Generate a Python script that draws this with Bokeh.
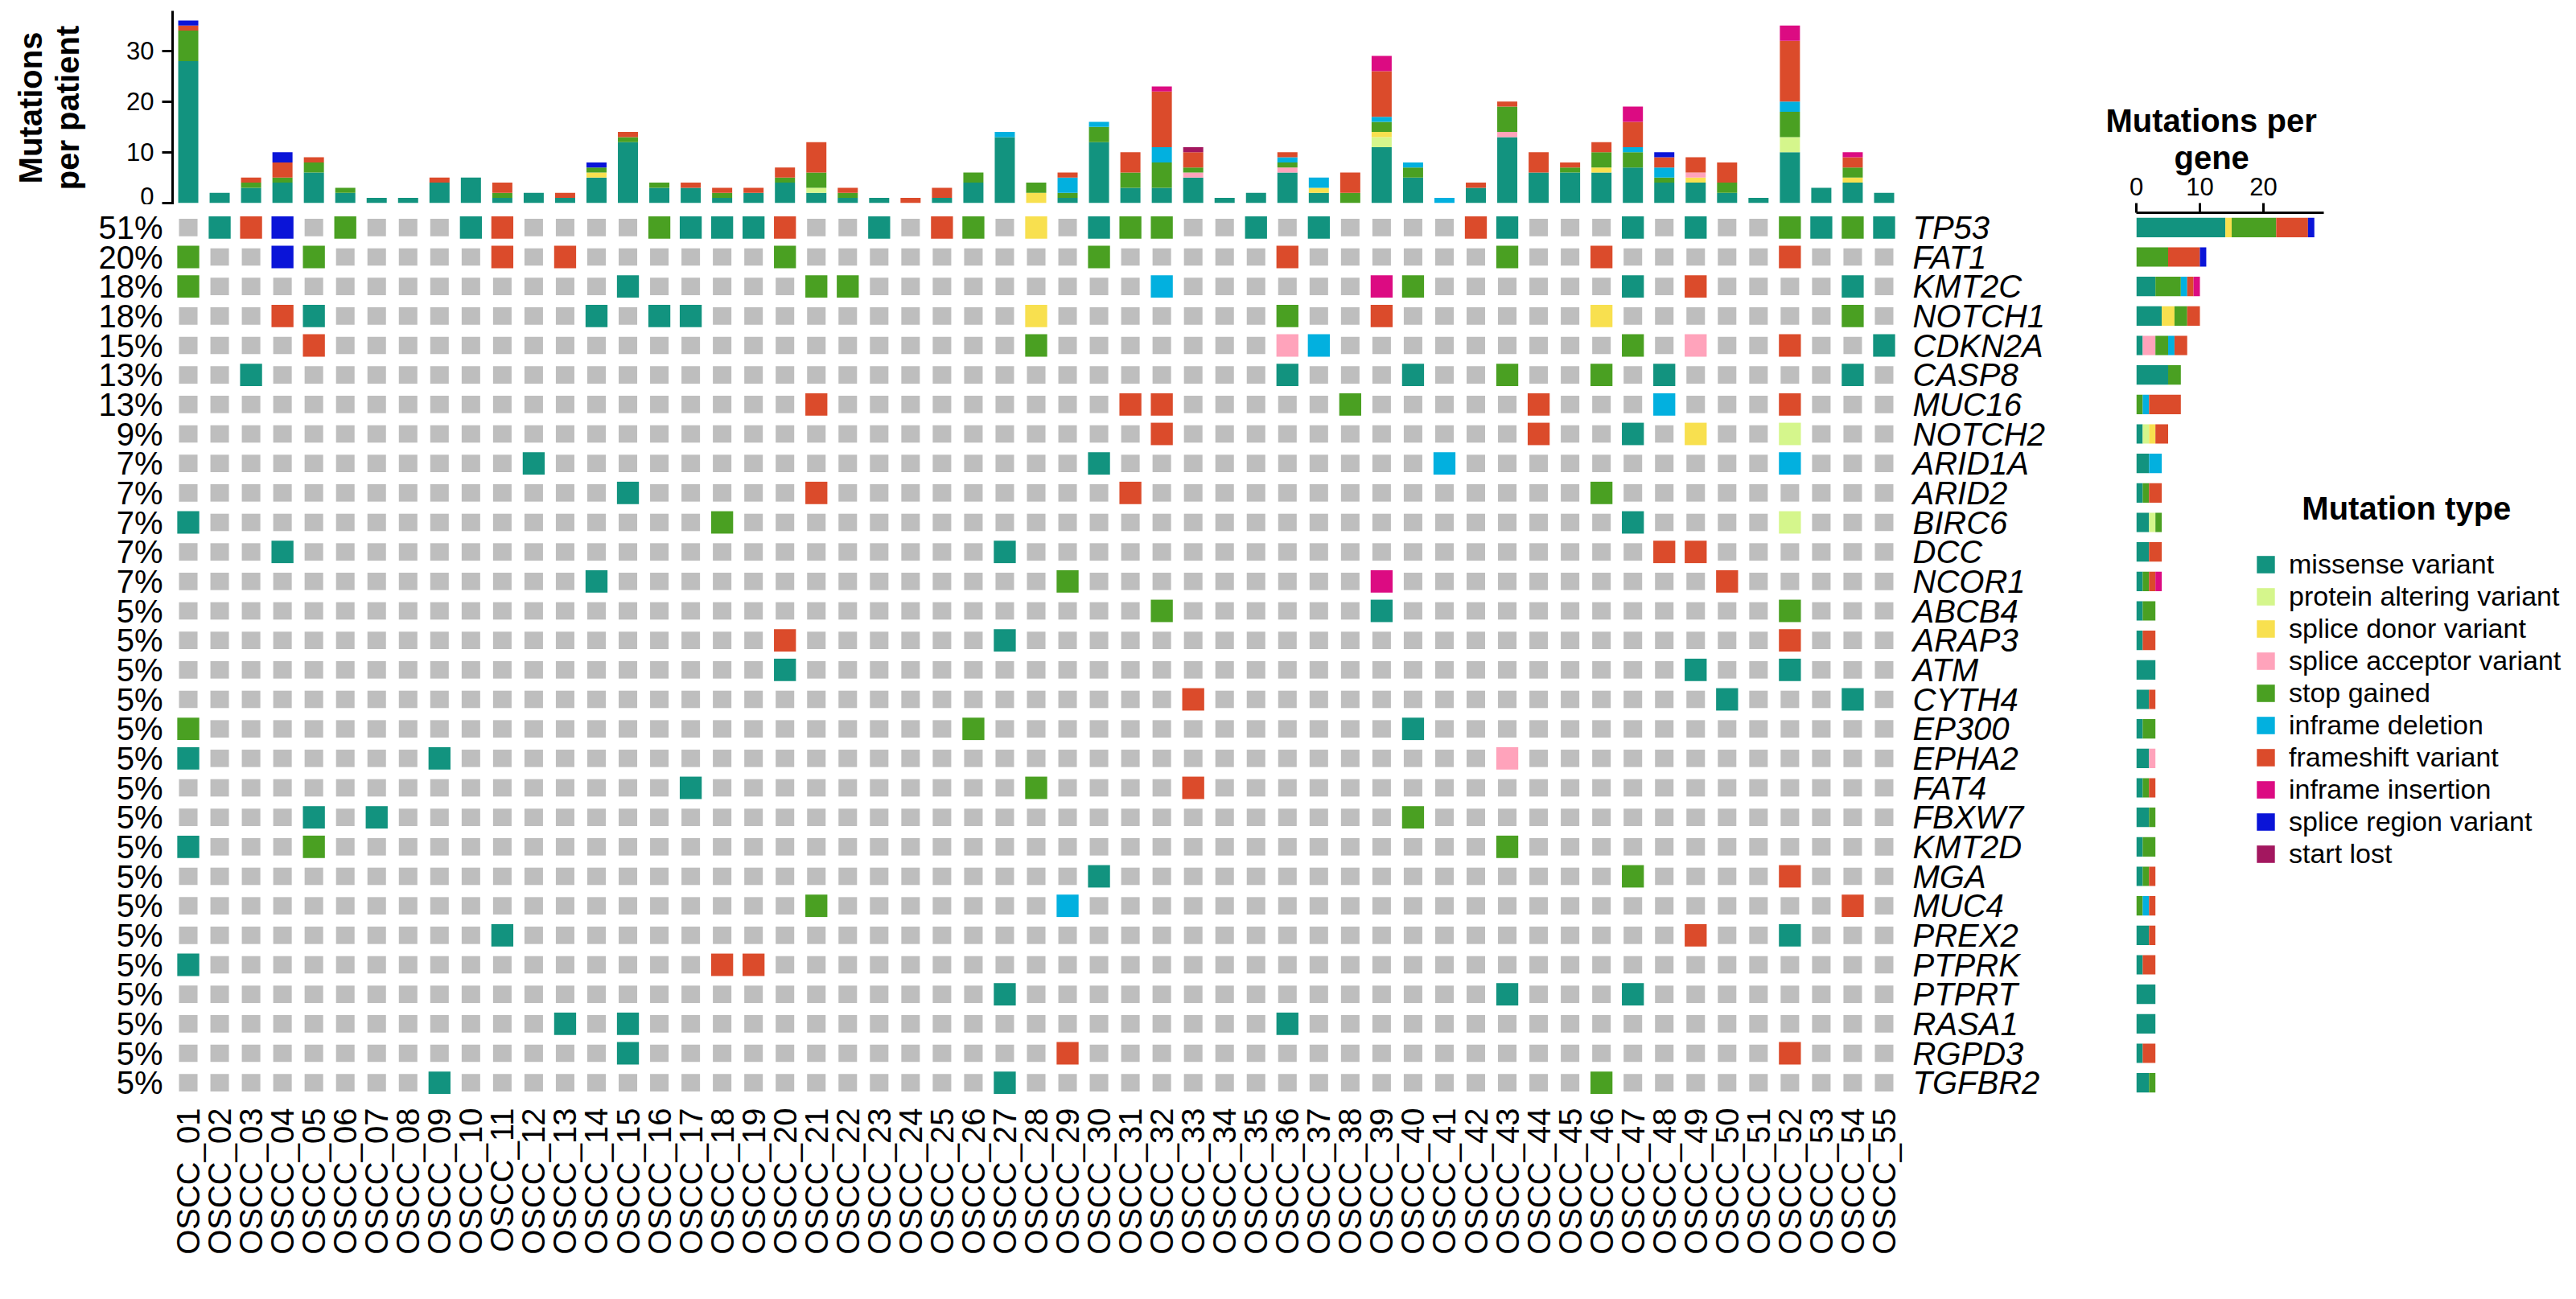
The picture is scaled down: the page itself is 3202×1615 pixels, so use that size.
import math
from bokeh.plotting import figure
from bokeh.models import (ColumnDataSource, Range1d, FixedTicker, LinearAxis,
                          Legend, LegendItem, Label, Title)
from bokeh.layouts import row, column
from bokeh.embed import file_html
from bokeh.resources import INLINE

FONT = "Liberation Sans"

# ---------------- data ----------------
patients = ["OSCC_%02d" % i for i in range(1, 56)]

genes = ["TP53", "FAT1", "KMT2C", "NOTCH1", "CDKN2A", "CASP8", "MUC16", "NOTCH2",
         "ARID1A", "ARID2", "BIRC6", "DCC", "NCOR1", "ABCB4", "ARAP3", "ATM",
         "CYTH4", "EP300", "EPHA2", "FAT4", "FBXW7", "KMT2D", "MGA", "MUC4",
         "PREX2", "PTPRK", "PTPRT", "RASA1", "RGPD3", "TGFBR2"]

gene_pct = ["51%", "20%", "18%", "18%", "15%", "13%", "13%", "9%", "7%", "7%",
            "7%", "7%", "7%", "5%", "5%", "5%", "5%", "5%", "5%", "5%",
            "5%", "5%", "5%", "5%", "5%", "5%", "5%", "5%", "5%", "5%"]

mut_types = ["missense variant", "protein altering variant", "splice donor variant",
             "splice acceptor variant", "stop gained", "inframe deletion",
             "frameshift variant", "inframe insertion", "splice region variant",
             "start lost"]
mut_codes = ["M", "P", "D", "A", "S", "L", "F", "I", "R", "X"]
mut_colors = ["#12937F", "#D5F68C", "#F8E04F", "#FFA3BB", "#4AA022", "#02B0DF",
              "#DB4B2B", "#DC0B82", "#0A14D8", "#A3175F"]
none_color = "#BEBEBE"

# one string per gene, one character per patient (groups of 10 patients)
grid = [
    ".MFR.S...M F....SMMMF ..M.FS.D.M SS..M.M... .FM...M.M. .SMSM",  # TP53
    "S..RS..... F.F......S .........S .....F.... ..S..F.... .F...",  # FAT1
    "S......... ....M..... SS........ .L......IS ......M.F. ...M.",  # KMT2C
    "...FM..... ...M.MM... .......D.. .....S..F. .....D.... ...S.",  # NOTCH1
    "....F..... .......... .......S.. .....AL... ......S.A. .F..M",  # CDKN2A
    "..M....... .......... .......... .....M...M ..S..S.M.. ...M.",  # CASP8
    ".......... .......... F......... FF.....S.. ...F...L.. .F...",  # MUC16
    ".......... .......... .......... .F........ ...F..M.D. .P...",  # NOTCH2
    ".......... .M........ .........M .......... L......... .L...",  # ARID1A
    ".......... ....M..... F......... F......... .....S.... .....",  # ARID2
    "M......... .......S.. .......... .......... ......M... .P...",  # BIRC6
    "...M...... .......... ......M... .......... .......FF. .....",  # DCC
    ".......... ...M...... ........S. ........I. .........F .....",  # NCOR1
    ".......... .......... .......... .S......M. .......... .S...",  # ABCB4
    ".......... .........F ......M... .......... .......... .F...",  # ARAP3
    ".......... .........M .......... .......... ........M. .M...",  # ATM
    ".......... .......... .......... ..F....... .........M ...M.",  # CYTH4
    "S......... .......... .....S.... .........M .......... .....",  # EP300
    "M.......M. .......... .......... .......... ..A....... .....",  # EPHA2
    ".......... ......M... .......S.. ..F....... .......... .....",  # FAT4
    "....M.M... .......... .......... .........S .......... .....",  # FBXW7
    "M...S..... .......... .......... .......... ..S....... .....",  # KMT2D
    ".......... .......... .........M .......... ......S... .F...",  # MGA
    ".......... .......... S.......L. .......... .......... ...F.",  # MUC4
    ".......... M......... .......... .......... ........F. .M...",  # PREX2
    "M......... .......FF. .......... .......... .......... .....",  # PTPRK
    ".......... .......... ......M... .......... ..M...M... .....",  # PTPRT
    ".......... ..M.M..... .......... .....M.... .......... .....",  # RASA1
    ".......... ....M..... ........F. .......... .......... .F...",  # RGPD3
    "........M. .......... ......M... .......... .....S.... .....",  # TGFBR2
]

# mutations per patient, by type (patients OSCC_01 .. OSCC_55)
pat_missense = [28, 2, 3, 4, 6, 2, 1, 1, 4, 5,
                1, 2, 1, 5, 12, 3, 3, 1, 2, 4,
                2, 1, 1, 0, 1, 4, 13, 0, 1, 12,
                3, 3, 5, 1, 2, 6, 2, 0, 11, 5,
                0, 3, 13, 6, 6, 6, 7, 4, 4, 2,
                1, 10, 3, 4, 2]
pat_protein_alt = [0, 0, 0, 0, 0, 0, 0, 0, 0, 0,
                   0, 0, 0, 0, 0, 0, 0, 0, 0, 0,
                   1, 0, 0, 0, 0, 0, 0, 0, 0, 0,
                   0, 0, 0, 0, 0, 0, 0, 0, 2, 0,
                   0, 0, 0, 0, 0, 0, 0, 0, 0, 0,
                   0, 3, 0, 0, 0]
pat_splice_donor = [0, 0, 0, 0, 0, 0, 0, 0, 0, 0,
                    0, 0, 0, 1, 0, 0, 0, 0, 0, 0,
                    0, 0, 0, 0, 0, 0, 0, 2, 0, 0,
                    0, 0, 0, 0, 0, 0, 1, 0, 1, 0,
                    0, 0, 0, 0, 0, 1, 0, 0, 1, 0,
                    0, 0, 0, 1, 0]
pat_splice_acc = [0, 0, 0, 0, 0, 0, 0, 0, 0, 0,
                  0, 0, 0, 0, 0, 0, 0, 0, 0, 0,
                  0, 0, 0, 0, 0, 0, 0, 0, 0, 0,
                  0, 0, 1, 0, 0, 1, 0, 0, 0, 0,
                  0, 0, 1, 0, 0, 0, 0, 0, 1, 0,
                  0, 0, 0, 0, 0]
pat_stop = [6, 0, 1, 1, 2, 1, 0, 0, 0, 0,
            1, 0, 0, 1, 1, 1, 0, 1, 0, 1,
            3, 1, 0, 0, 0, 2, 0, 2, 1, 3,
            3, 5, 1, 0, 0, 1, 0, 2, 2, 2,
            0, 0, 5, 0, 1, 3, 3, 1, 0, 2,
            0, 5, 0, 2, 0]
pat_inframe_del = [0, 0, 0, 0, 0, 0, 0, 0, 0, 0,
                   0, 0, 0, 0, 0, 0, 0, 0, 0, 0,
                   0, 0, 0, 0, 0, 0, 1, 0, 3, 1,
                   0, 3, 0, 0, 0, 1, 2, 0, 1, 1,
                   1, 0, 0, 0, 0, 0, 1, 2, 0, 0,
                   0, 2, 0, 0, 0]
pat_frameshift = [1, 0, 1, 3, 1, 0, 0, 0, 1, 0,
                  2, 0, 1, 0, 1, 0, 1, 1, 1, 2,
                  6, 1, 0, 1, 2, 0, 0, 0, 1, 0,
                  4, 11, 3, 0, 0, 1, 0, 4, 9, 0,
                  0, 1, 1, 4, 1, 2, 5, 2, 3, 4,
                  0, 12, 0, 2, 0]
pat_inframe_ins = [0, 0, 0, 0, 0, 0, 0, 0, 0, 0,
                   0, 0, 0, 0, 0, 0, 0, 0, 0, 0,
                   0, 0, 0, 0, 0, 0, 0, 0, 0, 0,
                   0, 1, 0, 0, 0, 0, 0, 0, 3, 0,
                   0, 0, 0, 0, 0, 0, 3, 0, 0, 0,
                   0, 3, 0, 1, 0]
pat_splice_region = [1, 0, 0, 2, 0, 0, 0, 0, 0, 0,
                     0, 0, 0, 1, 0, 0, 0, 0, 0, 0,
                     0, 0, 0, 0, 0, 0, 0, 0, 0, 0,
                     0, 0, 0, 0, 0, 0, 0, 0, 0, 0,
                     0, 0, 0, 0, 0, 0, 0, 1, 0, 0,
                     0, 0, 0, 0, 0]
pat_start_lost = [0, 0, 0, 0, 0, 0, 0, 0, 0, 0,
                  0, 0, 0, 0, 0, 0, 0, 0, 0, 0,
                  0, 0, 0, 0, 0, 0, 0, 0, 0, 0,
                  0, 0, 1, 0, 0, 0, 0, 0, 0, 0,
                  0, 0, 0, 0, 0, 0, 0, 0, 0, 0,
                  0, 0, 0, 0, 0]

pat_series = [pat_missense, pat_protein_alt, pat_splice_donor, pat_splice_acc,
              pat_stop, pat_inframe_del, pat_frameshift, pat_inframe_ins,
              pat_splice_region, pat_start_lost]

# ---------------- derived tables ----------------
n_pat = len(patients)
n_gene = len(genes)
xs = list(range(1, n_pat + 1))
ys = list(range(1, n_gene + 1))
rows_clean = [g.replace(" ", "") for g in grid]
assert all(len(r) == n_pat for r in rows_clean)
code_color = dict(zip(mut_codes, mut_colors))

top_data = {"x": xs}
for c, s in zip(mut_codes, pat_series):
    top_data[c] = s

gene_data = {"y": ys}
for c in mut_codes:
    gene_data[c] = [r.count(c) for r in rows_clean]

bg_x, bg_y, mx, my, mcol = [], [], [], [], []
for gi, r in enumerate(rows_clean):
    for pi, ch in enumerate(r):
        bg_x.append(pi + 1)
        bg_y.append(gi + 1)
        if ch != ".":
            mx.append(pi + 1)
            my.append(gi + 1)
            mcol.append(code_color[ch])

# ---------------- figures ----------------
x_rng = Range1d(0.5, n_pat + 0.5)
y_rng = Range1d(n_gene + 0.5, 0.5)


def base_fig(**kw):
    p = figure(toolbar_location=None, output_backend="svg", **kw)
    p.outline_line_color = None
    p.grid.visible = False
    p.background_fill_color = "white"
    p.border_fill_color = "white"
    return p


# top: mutations per patient
T = base_fig(width=2592, height=254, x_range=x_rng, y_range=Range1d(-0.35, 37.9),
             x_axis_location=None, y_axis_location="left",
             min_border_left=214, min_border_right=231, min_border_top=13,
             min_border_bottom=0)
T.vbar_stack(mut_codes, x="x", width=0.64, fill_color=mut_colors, line_color=None,
             source=ColumnDataSource(top_data))
ax = T.yaxis[0]
ax.ticker = FixedTicker(ticks=[0, 10, 20, 30])
ax.minor_tick_line_color = None
ax.major_tick_in = 0
ax.major_tick_out = 13
ax.axis_line_width = 3
ax.major_tick_line_width = 3
ax.major_label_standoff = 10
ax.major_label_text_font = FONT
ax.major_label_text_font_size = "31px"
ax.major_label_text_color = "black"
# second line of the rotated title as the axis label, first line as a title outside it
ax.axis_label = "per patient"
ax.axis_label_text_font = FONT
ax.axis_label_text_font_size = "40px"
ax.axis_label_text_font_style = "bold"
ax.axis_label_text_color = "black"
ax.axis_label_standoff = 48
T.add_layout(Title(text="Mutations", align="center", text_font=FONT,
                   text_font_size="40px", text_font_style="bold",
                   text_color="black", standoff=0), "left")

# main grid
G = base_fig(width=2592, height=1340, x_range=x_rng, y_range=y_rng,
             x_axis_location="below", y_axis_location="left",
             min_border_left=214, min_border_right=231, min_border_top=10,
             min_border_bottom=230)
G.rect(x=bg_x, y=bg_y, width=0.59, height=0.59, fill_color=none_color, line_color=None)
G.rect(x=mx, y=my, width=0.70, height=0.76, fill_color=mcol, line_color=None)

xa = G.xaxis[0]
xa.ticker = FixedTicker(ticks=xs)
xa.major_label_overrides = {i + 1: p for i, p in enumerate(patients)}
xa.major_label_orientation = math.pi / 2
xa.axis_line_color = None
xa.major_tick_line_color = None
xa.minor_tick_line_color = None
xa.major_tick_out = 0
xa.major_tick_in = 0
xa.major_label_standoff = 13
xa.major_label_text_font = FONT
xa.major_label_text_font_size = "40px"
xa.major_label_text_color = "black"

ya = G.yaxis[0]
ya.ticker = FixedTicker(ticks=ys)
ya.major_label_overrides = {i + 1: p for i, p in enumerate(gene_pct)}
ya.axis_line_color = None
ya.major_tick_line_color = None
ya.minor_tick_line_color = None
ya.major_tick_out = 0
ya.major_tick_in = 0
ya.major_label_standoff = 12
ya.major_label_text_font = FONT
ya.major_label_text_font_size = "40px"
ya.major_label_text_color = "black"

ra = LinearAxis(ticker=FixedTicker(ticks=ys),
                major_label_overrides={i + 1: g for i, g in enumerate(genes)},
                axis_line_color=None, major_tick_line_color=None,
                minor_tick_line_color=None, major_tick_out=0, major_tick_in=0,
                major_label_standoff=16, major_label_text_font=FONT,
                major_label_text_font_size="40px",
                major_label_text_font_style="italic",
                major_label_text_color="black")
G.add_layout(ra, "right")

# right: mutations per gene + legend
R = base_fig(width=594, height=1594, x_range=Range1d(0, 67.2), y_range=y_rng,
             x_axis_location="above", y_axis_location=None,
             min_border_left=63, min_border_right=0, min_border_top=264,
             min_border_bottom=230)
rs = R.hbar_stack(mut_codes, y="y", height=0.66, fill_color=mut_colors,
                  line_color=None, source=ColumnDataSource(gene_data))
ta = R.xaxis[0]
ta.ticker = FixedTicker(ticks=[0, 10, 20])
ta.bounds = (0, 29.5)
ta.minor_tick_line_color = None
ta.major_tick_in = 0
ta.major_tick_out = 12
ta.axis_line_width = 3
ta.major_tick_line_width = 3
ta.major_label_standoff = 10
ta.major_label_text_font = FONT
ta.major_label_text_font_size = "31px"
ta.major_label_text_color = "black"
R.add_layout(Title(text="gene", align="left", offset=47, text_font=FONT,
                   text_font_size="40px", text_font_style="bold",
                   text_color="black", standoff=0), "above")
R.add_layout(Title(text="Mutations per", align="left", offset=-38, text_font=FONT,
                   text_font_size="40px", text_font_style="bold",
                   text_color="black", standoff=0), "above")

legend = Legend(items=[LegendItem(label=t, renderers=[r]) for t, r in zip(mut_types, rs)],
                location=(147, 283), orientation="vertical",
                label_text_font=FONT, label_text_font_size="34px",
                label_text_color="black",
                glyph_width=28, glyph_height=27, label_standoff=15,
                label_height=27, spacing=1, padding=0, margin=0,
                border_line_color=None, background_fill_alpha=0)
R.add_layout(legend)
R.add_layout(Label(x=42.5, y=10.51, text="Mutation type", text_align="center",
                   text_baseline="middle", text_font=FONT, text_font_size="40px",
                   text_font_style="bold", text_color="black"))

layout = row(column(T, G), R)
open("out.html", "w").write(file_html(layout, INLINE, title="Oncoplot"))
